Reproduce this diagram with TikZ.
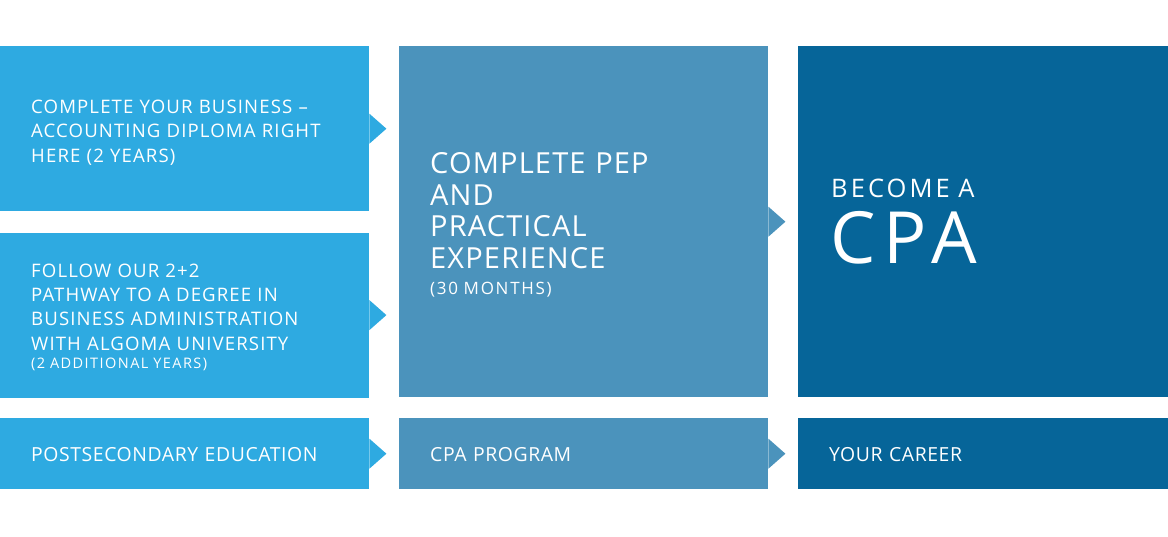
\documentclass[tikz,border=0pt]{standalone}
\usepackage{fontspec}
\setmainfont{Open Sans}[LetterSpace=3]
\usetikzlibrary{positioning}
\definecolor{edublue}{HTML}{2EAAE1}
\definecolor{pepblue}{HTML}{4B93BC}
\definecolor{careerblue}{HTML}{066599}
\newcommand{\spaced}[1]{\addfontfeature{LetterSpace=#1}}
\tikzset{
  panel/.style={anchor=north west, inner sep=0pt, minimum width=#1},
  panel/.default=369pt,
  words/.style={anchor=base west, inner sep=0pt, text=white, align=left, text width=330pt},
  body/.style={font=\fontsize{18.6}{24.3}\selectfont\spaced{6}},
  tag/.style={font=\fontsize{19.4}{24}\selectfont},
}
\begin{document}
\begin{tikzpicture}[x=1pt,y=-1pt]
  \useasboundingbox (0,0) rectangle (1168,536);
  % Postsecondary education
  \node[panel, fill=edublue, minimum height=165pt] (diploma) at (0,46) {};
  \node[panel, fill=edublue, minimum height=165pt, below=21pt of diploma.south west, anchor=north west] (pathway) {};
  \node[words, body] (diplomatext) at (31,113.5)
    {COMPLETE YOUR BUSINESS –\\ACCOUNTING DIPLOMA RIGHT\\HERE (2 YEARS)};
  \node[words, body] (pathwaytext) at (31,277.3)
    {FOLLOW OUR 2+2\\PATHWAY TO A DEGREE IN\\BUSINESS ADMINISTRATION\\WITH ALGOMA UNIVERSITY};
  \node[words, font=\fontsize{14.5}{18}\selectfont\spaced{10}] (pathwaynote) at (31,368) {(2 ADDITIONAL YEARS)};
  % CPA program
  \node[panel, fill=pepblue, minimum height=351pt] (pep) at (399,46) {};
  \node[words, font=\fontsize{29}{31.7}\selectfont\spaced{4}] (peptext) at (430,173.3)
    {COMPLETE PEP\\AND\\PRACTICAL\\EXPERIENCE};
  \node[words, font=\fontsize{17}{20}\selectfont\spaced{10}] (pepnote) at (430,294) {(30 MONTHS)};
  % Career
  \node[panel=370pt, fill=careerblue, minimum height=351pt] (cpa) at (798,46) {};
  \node[words, font=\fontsize{25.5}{30}\selectfont\spaced{12}] (becometext) at (831,197) {BECOME A};
  \node[words, font=\fontsize{72}{80}\selectfont\spaced{11}] (cpatext) at (830,263) {CPA};
  % Bottom row
  \node[panel, fill=edublue, minimum height=71pt] (edu) at (0,418) {};
  \node[panel, fill=pepblue, minimum height=71pt] (program) at (399,418) {};
  \node[panel=370pt, fill=careerblue, minimum height=71pt] (career) at (798,418) {};
  \node[words, tag] (edutext) at (31,461.5) {POSTSECONDARY EDUCATION};
  \node[words, tag] (programtext) at (430,461.5) {CPA PROGRAM};
  \node[words, tag] (careertext) at (829,461.5) {YOUR CAREER};
  % Pointers
  \fill[edublue] (diploma.east) ++(0,-15) -- ++(17,15) -- ++(-17,15) -- cycle;
  \fill[edublue] (pathway.east) ++(0,-15) -- ++(17,15) -- ++(-17,15) -- cycle;
  \fill[pepblue] (pep.east) ++(0,-15) -- ++(17,15) -- ++(-17,15) -- cycle;
  \fill[edublue] (edu.east) ++(0,-15) -- ++(17,15) -- ++(-17,15) -- cycle;
  \fill[pepblue] (program.east) ++(0,-15) -- ++(17,15) -- ++(-17,15) -- cycle;
\end{tikzpicture}
\end{document}
